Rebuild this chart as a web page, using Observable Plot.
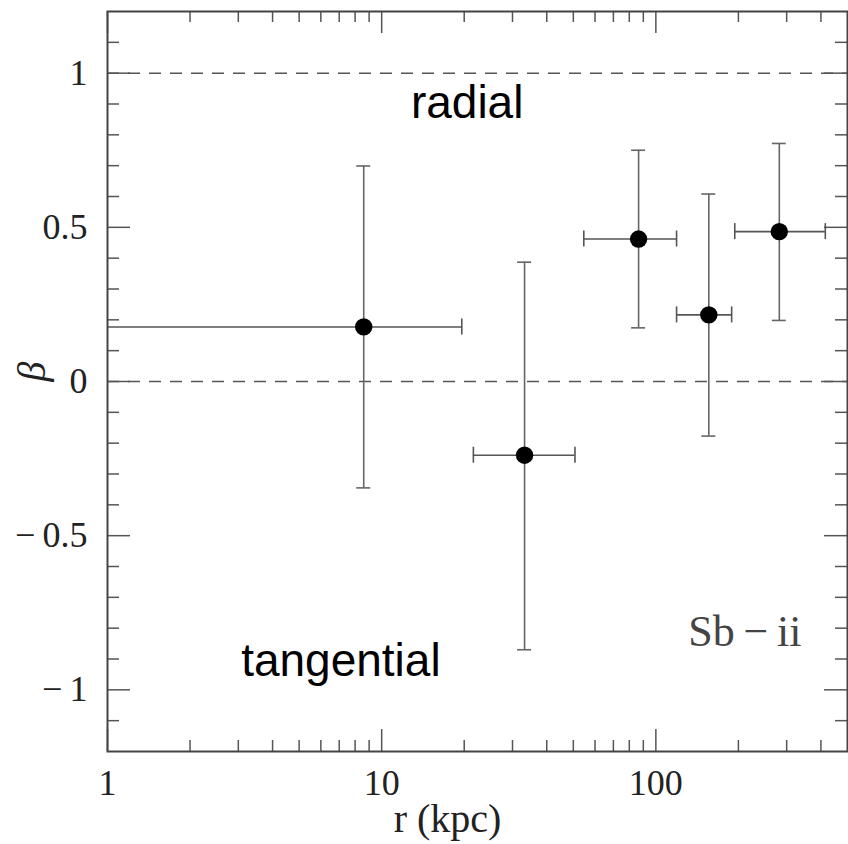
<!DOCTYPE html>
<html>
<head>
<meta charset="utf-8">
<script src="https://cdn.jsdelivr.net/npm/d3@7"></script>
<script src="https://cdn.jsdelivr.net/npm/@observablehq/plot@0.6"></script>
<style>
  html, body { margin: 0; padding: 0; background: #fff; }
  #chart svg { display: block; }
</style>
</head>
<body>
<div id="chart"></div>
<script>
// ---- data ----
const r      = [8.6, 33.2, 86.5, 156, 282];
const rLo    = [0.5, 21.6, 54.6, 119, 194];
const rHi    = [19.6, 50.7, 119, 189, 415];
const beta   = [0.177, -0.239, 0.462, 0.216, 0.486];
const betaLo = [-0.345, -0.870, 0.174, -0.177, 0.198];
const betaHi = [0.699, 0.387, 0.750, 0.608, 0.772];

const xMajorTicks = [1, 10, 100];
const xMinorTicks = [2, 3, 4, 5, 6, 7, 8, 9, 20, 30, 40, 50, 60, 70, 80, 90, 200, 300, 400];
const yMajorTicks = [-1, -0.5, 0, 0.5, 1];
const yMinorTicks = [-1.1, -0.9, -0.8, -0.7, -0.6, -0.4, -0.3, -0.2, -0.1,
                     0.1, 0.2, 0.3, 0.4, 0.6, 0.7, 0.8, 0.9, 1.1];
const refLines = [0, 1];

const annoText = ["radial", "tangential"];
const annoR    = [20.5, 7.1];
const annoBeta = [0.855, -0.954];
const tagText = ["Sb\u2009\u2212\u2009ii"];
const tagR = [340];
const tagBeta = [-0.857];

const xLabel = "r (kpc)";
const yLabel = "β";

// ---- layout ----
const W = 848, H = 844;
const mL = 107, mR = 1, mT = 11, mB = 93;
const fw = W - mL - mR, fh = H - mT - mB;
const serif = "Liberation Serif";
const sans = "Liberation Sans";
const tickColor = "#555";

const points = r.map((v, i) => ({r: v, rLo: rLo[i], rHi: rHi[i], b: beta[i], bLo: betaLo[i], bHi: betaHi[i]}));
const annos = annoText.map((t, i) => ({t, r: annoR[i], b: annoBeta[i]}));
const tags = tagText.map((t, i) => ({t, r: tagR[i], b: tagBeta[i]}));

const fmtY = d => d < 0 ? "\u2212\u2009" + Math.abs(d) : String(d);

const chart = Plot.plot({
  width: W, height: H,
  marginLeft: mL, marginRight: mR, marginTop: mT, marginBottom: mB,
  style: {fontFamily: serif, background: "#fff", color: "#222"},
  x: {type: "log", domain: [1, 500], axis: null},
  y: {domain: [-1.2, 1.2], axis: null},
  marks: [
    // dashed reference lines
    Plot.ruleY(refLines, {stroke: "#555", strokeWidth: 1.5, strokeDasharray: "12,9"}),
    // minor/major ticks, inward on all four sides
    Plot.tickX(xMinorTicks, {x: d => d, insetTop: fh - 11, stroke: tickColor, strokeWidth: 1.5}),
    Plot.tickX(xMinorTicks, {x: d => d, insetBottom: fh - 11, stroke: tickColor, strokeWidth: 1.5}),
    Plot.tickX(xMajorTicks, {x: d => d, insetTop: fh - 22, stroke: tickColor, strokeWidth: 1.5}),
    Plot.tickX(xMajorTicks, {x: d => d, insetBottom: fh - 22, stroke: tickColor, strokeWidth: 1.5}),
    Plot.tickY(yMinorTicks, {y: d => d, insetRight: fw - 12, stroke: tickColor, strokeWidth: 1.5}),
    Plot.tickY(yMinorTicks, {y: d => d, insetLeft: fw - 12, stroke: tickColor, strokeWidth: 1.5}),
    Plot.tickY(yMajorTicks, {y: d => d, insetRight: fw - 23, stroke: tickColor, strokeWidth: 1.5}),
    Plot.tickY(yMajorTicks, {y: d => d, insetLeft: fw - 23, stroke: tickColor, strokeWidth: 1.5}),
    // tick labels
    Plot.axisX({ticks: xMajorTicks, tickSize: 0, tickPadding: 18, tickFormat: d => String(d),
                fontSize: 36, fontFamily: serif, fill: "#222"}),
    Plot.axisY({ticks: yMajorTicks, tickSize: 0, tickPadding: 20, tickFormat: fmtY,
                fontSize: 36, fontFamily: serif, fill: "#222", label: null}),
    // error bars
    Plot.ruleY(points, {y: "b", x1: "rLo", x2: "rHi", stroke: "#555", strokeWidth: 1.6, clip: true}),
    Plot.ruleX(points, {x: "r", y1: "bLo", y2: "bHi", stroke: "#666", strokeWidth: 1.6}),
    Plot.ruleX(points, {x: "rLo", y1: "b", y2: "b", insetTop: -8, insetBottom: -8, stroke: "#555", strokeWidth: 1.6, clip: true}),
    Plot.ruleX(points, {x: "rHi", y1: "b", y2: "b", insetTop: -8, insetBottom: -8, stroke: "#555", strokeWidth: 1.6}),
    Plot.ruleY(points, {y: "bLo", x1: "r", x2: "r", insetLeft: -7, insetRight: -7, stroke: "#666", strokeWidth: 1.6}),
    Plot.ruleY(points, {y: "bHi", x1: "r", x2: "r", insetLeft: -7, insetRight: -7, stroke: "#666", strokeWidth: 1.6}),
    // points
    Plot.dot(points, {x: "r", y: "b", r: 8.7, fill: "#000", stroke: "none"}),
    // annotations
    Plot.text(annos, {x: "r", y: "b", text: "t", fontFamily: sans, fontSize: 46, fill: "#000",
                      textAnchor: "middle", lineAnchor: "bottom"}),
    Plot.text(tags, {x: "r", y: "b", text: "t", fontFamily: serif, fontSize: 44, fill: "#444",
                     textAnchor: "end", lineAnchor: "bottom"}),
    // axis labels
    Plot.text([xLabel], {frameAnchor: "bottom", dx: -30, dy: 80, text: d => d, fontFamily: serif, fontSize: 40,
                         fill: "#222", lineAnchor: "bottom"}),
    Plot.text([yLabel], {frameAnchor: "left", dx: -75, rotate: -90, text: d => d, fontFamily: serif,
                         fontStyle: "italic", fontSize: 40, fill: "#222"}),
    Plot.frame({stroke: "#444", strokeWidth: 2})
  ]
});
document.getElementById("chart").appendChild(chart);
</script>
</body>
</html>
